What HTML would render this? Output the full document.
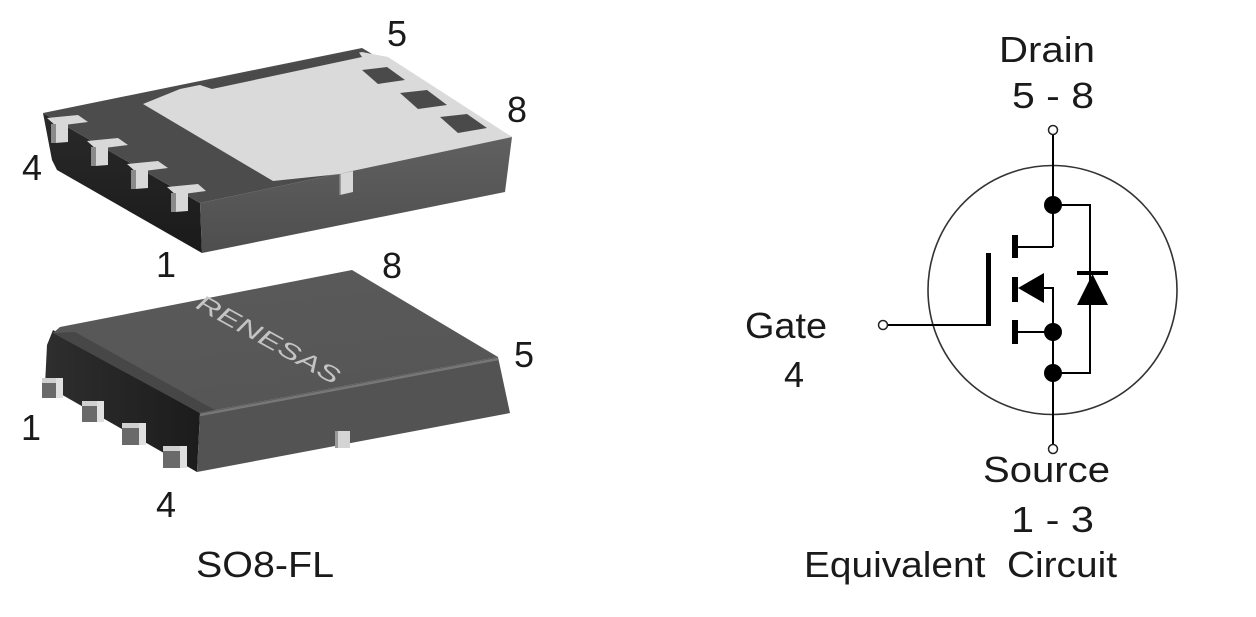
<!DOCTYPE html>
<html>
<head>
<meta charset="utf-8">
<style>
html,body{margin:0;padding:0;background:#fff;}
svg{display:block;}
text{font-family:"Liberation Sans",Arial,sans-serif;fill:#1a1a1a;}
</style>
</head>
<body>
<svg width="1256" height="617" viewBox="0 0 1256 617" xmlns="http://www.w3.org/2000/svg">
<defs>
<linearGradient id="lf1" x1="0" y1="0" x2="0" y2="1">
<stop offset="0" stop-color="#2a2a2a"/><stop offset="1" stop-color="#1a1a1a"/>
</linearGradient>
<linearGradient id="ff1" x1="0" y1="0" x2="0" y2="1">
<stop offset="0" stop-color="#606060"/><stop offset="1" stop-color="#4e4e4e"/>
</linearGradient>
<linearGradient id="lf2" x1="0" y1="0" x2="1" y2="0">
<stop offset="0" stop-color="#2e2e2e"/><stop offset="1" stop-color="#1c1c1c"/>
</linearGradient>
<linearGradient id="tf2" x1="0" y1="0" x2="0.3" y2="1">
<stop offset="0" stop-color="#5a5a5a"/><stop offset="1" stop-color="#565656"/>
</linearGradient>
</defs>

<!-- ============ TOP PACKAGE ============ -->
<polygon points="43,113 200,203 202,253 57,170 52,160" fill="url(#lf1)"/>
<polygon points="200,203 512,137 505,192 202,253" fill="url(#ff1)"/>
<polygon points="43,113 362,48 512,137 200,203" fill="#4c4c4c"/>
<polygon points="143,104 180,89 362,52 388,57 512,137 352,171 340,174 273,181" fill="#dadada"/>
<polygon points="197,84 358,51 362,57 212,89" fill="#4a4a4a"/>
<polygon points="362,70 387,67 405,80 378,84" fill="#4a4a4a"/>
<polygon points="400,93 427,90 447,105 418,109" fill="#4a4a4a"/>
<polygon points="440,117 467,114 487,128 458,133" fill="#4a4a4a"/>
<polygon points="340,174 353,171 353,192 340,195" fill="#d8d8d8"/>
<line x1="340" y1="174" x2="340" y2="195" stroke="#888" stroke-width="1.5"/>
<g fill="#d8d8d8">
<polygon points="47,118 78,115 88,122 56,126"/>
<polygon points="55,124 68,123 68,142 55,143"/>
<polygon points="87,141 118,138 128,145 96,149"/>
<polygon points="95,147 108,146 108,165 95,166"/>
<polygon points="127,164 158,161 168,168 136,172"/>
<polygon points="135,170 148,169 148,188 135,189"/>
<polygon points="167,187 198,184 206,191 176,195"/>
<polygon points="175,193 188,192 188,211 175,212"/>
</g>
<g fill="#8a8a8a">
<rect x="51" y="124" width="5" height="19"/>
<rect x="91" y="147" width="5" height="19"/>
<rect x="131" y="170" width="5" height="19"/>
<rect x="171" y="193" width="5" height="19"/>
</g>

<!-- ============ BOTTOM PACKAGE ============ -->
<polygon points="53,330 200,413 197,472 45,385 47,345" fill="url(#lf2)"/>
<polygon points="200,413 498,357 510,413 197,472" fill="#535353"/>
<polygon points="60,327 352,270 498,357 200,413 53,333" fill="url(#tf2)"/>
<polygon points="53,333 200,413 215,410 75,332" fill="#3c3c3c" opacity="0.6"/>
<polyline points="200,415 498,359" fill="none" stroke="#777" stroke-width="2.5"/>
<text x="268" y="347" font-size="23" font-style="italic" text-anchor="middle" textLength="160" lengthAdjust="spacingAndGlyphs" transform="rotate(29 268 340)" style="fill:#c4c4c4">RENESAS</text>
<g>
<rect x="42" y="378" width="21" height="20" fill="#6a6a6a"/><rect x="42" y="378" width="21" height="5" fill="#d0d0d0"/><rect x="56" y="378" width="7" height="20" fill="#e0e0e0"/>
<rect x="82" y="401" width="22" height="21" fill="#6a6a6a"/><rect x="82" y="401" width="22" height="5" fill="#d0d0d0"/><rect x="97" y="401" width="7" height="21" fill="#e0e0e0"/>
<rect x="122" y="423" width="24" height="22" fill="#6a6a6a"/><rect x="122" y="423" width="24" height="5" fill="#d0d0d0"/><rect x="139" y="423" width="7" height="22" fill="#e0e0e0"/>
<rect x="163" y="446" width="24" height="22" fill="#6a6a6a"/><rect x="163" y="446" width="24" height="5" fill="#d0d0d0"/><rect x="180" y="446" width="7" height="22" fill="#e0e0e0"/>
</g>
<rect x="335" y="431" width="15" height="17" fill="#d4d4d4"/>
<rect x="335" y="431" width="3" height="17" fill="#999"/>

<g font-size="36">
<text x="387" y="46">5</text>
<text x="507" y="122">8</text>
<text x="22" y="180">4</text>
<text x="156" y="277">1</text>
<text x="382" y="278">8</text>
<text x="514" y="367">5</text>
<text x="21" y="440">1</text>
<text x="156" y="517">4</text>
<text x="196" y="577" textLength="138" lengthAdjust="spacingAndGlyphs">SO8-FL</text>
</g>

<!-- ============ CIRCUIT ============ -->
<circle cx="1052.5" cy="290" r="124.5" fill="none" stroke="#333" stroke-width="1.6"/>
<g stroke="#000" stroke-width="2" fill="none">
<line x1="1053" y1="134.5" x2="1053" y2="247"/>
<line x1="1017" y1="247" x2="1053" y2="247"/>
<polyline points="1044,288 1053,288 1053,444.5"/>
<line x1="1017" y1="332" x2="1053" y2="332"/>
<polyline points="1053,205 1090,205 1090,373 1053,373"/>
<polyline points="887.5,325 990,325"/>
</g>
<rect x="986" y="253" width="5" height="73" fill="#000"/>
<rect x="1012" y="235" width="6" height="23" fill="#000"/>
<rect x="1012" y="277" width="6" height="25" fill="#000"/>
<rect x="1012" y="320" width="6" height="24" fill="#000"/>
<polygon points="1018,288 1044,273 1044,303" fill="#000"/>
<rect x="1077" y="271" width="31" height="4" fill="#000"/>
<polygon points="1092.5,274 1077,305 1108,305" fill="#000"/>
<circle cx="1053" cy="205" r="9" fill="#000"/>
<circle cx="1053" cy="332" r="9" fill="#000"/>
<circle cx="1053" cy="373" r="9" fill="#000"/>
<circle cx="1053" cy="130" r="4.5" fill="#fff" stroke="#222" stroke-width="1.5"/>
<circle cx="1053" cy="449" r="4.5" fill="#fff" stroke="#222" stroke-width="1.5"/>
<circle cx="883" cy="325" r="4.5" fill="#fff" stroke="#222" stroke-width="1.5"/>

<g font-size="36">
<text x="999" y="62" textLength="96" lengthAdjust="spacingAndGlyphs">Drain</text>
<text x="1012" y="108" textLength="82" lengthAdjust="spacingAndGlyphs">5 - 8</text>
<text x="745" y="338" textLength="82" lengthAdjust="spacingAndGlyphs">Gate</text>
<text x="784" y="387">4</text>
<text x="983" y="482" textLength="127" lengthAdjust="spacingAndGlyphs">Source</text>
<text x="1011" y="532" textLength="83" lengthAdjust="spacingAndGlyphs">1 - 3</text>
<text x="804" y="577" textLength="313" lengthAdjust="spacingAndGlyphs">Equivalent&#160;&#160;Circuit</text>
</g>
</svg>
</body>
</html>
